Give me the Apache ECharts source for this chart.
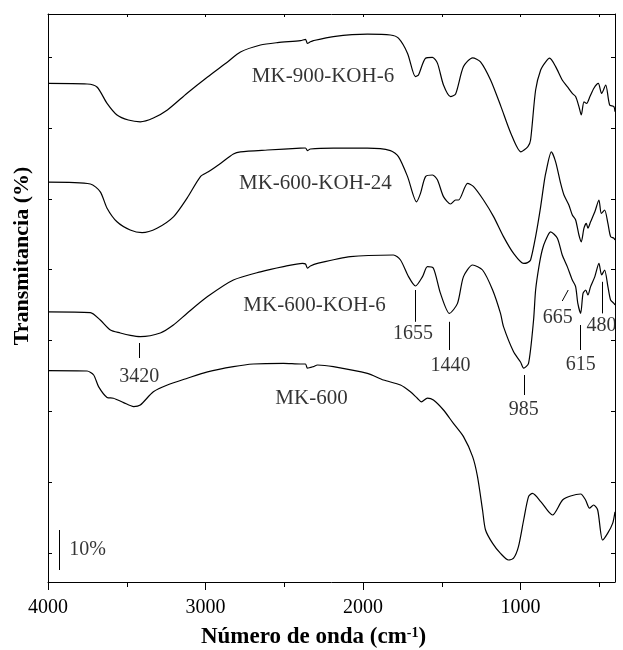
<!DOCTYPE html>
<html><head><meta charset="utf-8">
<script src="https://cdn.jsdelivr.net/npm/echarts@6/dist/echarts.min.js"></script>
<style>html,body{margin:0;padding:0;background:#fff}#c{width:623px;height:650px}</style>
</head><body><div id="c"></div>
<script>
// Wavenumber (cm-1), offset transmittance (%) for each sample
const mk900koh6 = [[4000,117.4],[3752,117.25],[3689,116.5],[3625,112.4],[3562,109.5],[3490,108.25],[3414,107.8],[3331,108.75],[3242,110.75],[3115,115.0],[2987,119.0],[2860,122.75],[2778,125.25],[2651,127.0],[2543,127.6],[2397,128.1],[2365,128.4],[2353,127.4],[2334,127.8],[2315,128.1],[2188,129.1],[1972,129.7],[1826,129.5],[1775,128.7],[1717,124.9],[1667,119.1],[1648,119.5],[1603,123.7],[1559,123.9],[1527,122.4],[1489,117.0],[1444,114.1],[1412,114.75],[1362,121.6],[1304,123.8],[1254,122.8],[1190,118.25],[1124,111.6],[1061,104.9],[997,100.3],[953,101.6],[936,103.25],[904,115.75],[872,120.75],[840,122.8],[815,123.7],[777,121.6],[735,118.25],[703,116.6],[671,114.9],[650,114.1],[629,111.6],[614,109.5],[597,112.8],[580,112.4],[559,114.1],[534,116.2],[506,117.4],[485,114.9],[459,117.0],[434,112.0],[407,111.6],[400,110.3]];
const mk600koh24 = [[4000,92.7],[3731,92.25],[3668,90.3],[3625,86.2],[3562,82.8],[3478,80.75],[3403,80.1],[3308,81.2],[3202,84.1],[3117,88.7],[3032,94.1],[2982,95.3],[2905,97.4],[2823,99.75],[2778,100.3],[2607,100.75],[2397,101.2],[2365,101.25],[2353,100.6],[2334,101.0],[2188,101.2],[1972,101.2],[1826,100.6],[1775,99.1],[1717,94.1],[1660,87.8],[1635,89.9],[1603,94.1],[1559,94.5],[1527,93.25],[1489,89.1],[1444,87.25],[1412,88.25],[1393,88.25],[1336,92.4],[1298,91.6],[1235,88.25],[1171,84.1],[1108,79.1],[1044,74.9],[980,72.4],[955,72.6],[936,73.25],[904,79.1],[872,86.6],[851,92.4],[840,94.9],[804,100.3],[777,97.8],[745,92.4],[724,89.5],[693,87.0],[671,84.5],[650,83.25],[629,79.5],[614,77.8],[597,81.2],[582,82.4],[572,81.2],[555,82.8],[528,85.3],[502,88.25],[487,84.9],[466,85.75],[445,82.4],[428,79.1],[407,78.7],[400,78.25]];
const mk600koh6 = [[4000,60.3],[3731,60.1],[3668,58.25],[3604,55.75],[3541,55.0],[3477,54.4],[3414,54.1],[3287,55.0],[3204,57.0],[3115,60.0],[2987,64.1],[2823,68.25],[2651,70.3],[2505,71.6],[2384,72.4],[2365,72.25],[2353,71.2],[2334,71.75],[2289,72.4],[2080,74.1],[1807,74.5],[1762,73.25],[1711,69.1],[1667,66.75],[1622,69.1],[1591,71.6],[1553,71.2],[1508,64.9],[1451,59.9],[1400,62.4],[1362,69.1],[1304,72.0],[1241,70.75],[1177,65.75],[1127,59.9],[1108,56.6],[1044,50.3],[1000,47.75],[980,46.2],[949,47.4],[917,58.25],[904,65.75],[883,71.6],[862,75.75],[840,78.25],[809,80.3],[766,78.7],[735,74.5],[703,71.6],[671,68.25],[650,66.6],[636,62.4],[618,59.9],[603,64.9],[586,65.75],[572,64.5],[555,66.6],[528,69.1],[502,72.4],[485,69.5],[466,70.75],[445,66.6],[428,63.25],[407,62.4],[400,62.0]];
const mk600 = [[4000,45.6],[3752,45.5],[3710,44.5],[3679,41.6],[3625,38.9],[3585,38.7],[3520,37.6],[3456,36.6],[3414,37.0],[3331,40.3],[3242,42.0],[3115,43.7],[2987,45.3],[2823,46.6],[2696,47.25],[2505,47.4],[2397,47.25],[2365,47.25],[2353,46.2],[2315,46.6],[2289,47.0],[2188,46.6],[1972,44.9],[1870,43.25],[1762,42.0],[1699,40.3],[1655,38.7],[1629,37.8],[1591,38.7],[1553,38.25],[1489,35.75],[1426,32.4],[1362,29.1],[1304,24.1],[1273,19.1],[1241,10.75],[1222,5.75],[1177,2.4],[1127,-0.1],[1076,-1.75],[1044,-1.3],[1013,1.6],[980,8.25],[949,14.1],[924,14.9],[870,12.8],[797,9.5],[733,13.25],[682,14.25],[618,14.75],[587,13.25],[562,11.2],[536,12.0],[510,10.75],[479,3.25],[447,4.9],[415,7.4],[400,10.3]];

const seriesNames = ['MK-900-KOH-6','MK-600-KOH-24','MK-600-KOH-6','MK-600'];
const seriesData = [mk900koh6, mk600koh24, mk600koh6, mk600];
const nameAnchors = [[2254,119.1],[2302,92.4],[2308,62.0],[2327,38.75]];

// band annotations
const peakLabels = ['3420','1655','1440','985','665','615','480'];
const peakLines = [[[3420,52.5],[3420,48.75]],[[1667,65.75],[1667,57.8]],[[1451,57.8],[1451,50.75]],[[978,44.5],[978,39.5]],[[735,63.0],[697,65.75]],[[618,57.0],[618,50.75]],[[481,67.8],[481,59.9]]];
const peakLabelAt = [[3420,44.0],[1683,54.75],[1444,46.75],[980,35.75],[764,58.7],[618,47.0],[486,56.75]];

// 10 % scale bar
const scaleBar = [[3926,5.75],[3926,-4.25]];
const scaleLabel = '10%';
const scaleLabelAt = [3865,0.75];

const xMajorTicks = [1000,2000,3000,4000];
const xMinorTicks = [500,1500,2500,3500];
const xAllTicks = [500,1000,1500,2000,2500,3000,3500,4000];
const yTicks = [0,17.71,35.42,53.13,70.84,88.55,106.26,123.97];

const FONT = '"Liberation Serif", "Times New Roman", serif';
const BLACK = '#000';
const chart = echarts.init(document.getElementById('c'), null, {renderer:'canvas'});

const xBase = {type:'value', min:400, max:4000, inverse:true, gridIndex:0, splitLine:{show:false}};
const yBase = {type:'value', min:-7.25, max:134.75, gridIndex:0, splitLine:{show:false}, axisLabel:{show:false}};

const series = seriesData.map((d,i)=>({
  type:'line', name:seriesNames[i], data:d, showSymbol:false, smooth:0.25,
  lineStyle:{color:BLACK, width:1.2}, itemStyle:{color:BLACK}, silent:true, z:3
}));

series.push({
  type:'line', data:[], silent:true,
  markLine:{
    silent:true, symbol:['none','none'], label:{show:false},
    lineStyle:{color:BLACK, width:1, type:'solid'},
    data: peakLines.map(s=>[{coord:s[0]},{coord:s[1]}]).concat([[{coord:scaleBar[0]},{coord:scaleBar[1]}]])
  }
});

series.push({
  type:'scatter', symbolSize:0, silent:true, z:5,
  label:{show:true, position:'inside', formatter:'{b}', color:BLACK, fontFamily:FONT, fontSize:20},
  data: peakLabelAt.map((p,i)=>({name:peakLabels[i], value:p}))
    .concat([{name:scaleLabel, value:scaleLabelAt, label:{align:'left'}}])
});

series.push({
  type:'scatter', symbolSize:0, silent:true, z:5,
  label:{show:true, position:'inside', formatter:'{b}', color:BLACK, fontFamily:FONT, fontSize:21},
  data: nameAnchors.map((p,i)=>({name:seriesNames[i], value:p}))
});

chart.setOption({
  animation:false,
  backgroundColor:'#fff',
  grid:{left:48, right:8, top:14, bottom:68, containLabel:false, outerBoundsMode:'none'},
  xAxis:[
    Object.assign({}, xBase, {
      position:'bottom',
      axisLine:{show:true, onZero:false, lineStyle:{color:BLACK, width:1}},
      axisTick:{show:true, inside:false, length:8, customValues:xMajorTicks, lineStyle:{color:BLACK}},
      axisLabel:{show:true, customValues:xMajorTicks, margin:16, color:BLACK, fontFamily:FONT, fontSize:20,
        formatter:(v)=>String(v)},
      name:'Número de onda (cm{sup|-1})', nameLocation:'middle', nameGap:44,
      nameTextStyle:{color:BLACK, fontFamily:FONT, fontWeight:'bold', fontSize:23, padding:[0,36,0,0],
        rich:{sup:{fontFamily:FONT, fontWeight:'bold', fontSize:14, verticalAlign:'top', color:BLACK}}}
    }),
    Object.assign({}, xBase, {
      position:'bottom',
      axisLine:{show:false, onZero:false},
      axisTick:{show:true, inside:false, length:5, customValues:xMinorTicks, lineStyle:{color:BLACK}},
      axisLabel:{show:false}
    }),
    Object.assign({}, xBase, {
      position:'top',
      axisLine:{show:true, onZero:false, lineStyle:{color:BLACK, width:1}},
      axisTick:{show:true, inside:true, length:3, customValues:xAllTicks, lineStyle:{color:BLACK}},
      axisLabel:{show:false}
    })
  ],
  yAxis:[
    Object.assign({}, yBase, {
      position:'left',
      axisLine:{show:true, onZero:false, lineStyle:{color:BLACK, width:1}},
      axisTick:{show:true, inside:true, length:4, customValues:yTicks, lineStyle:{color:BLACK}},
      name:'Transmitancia (%)', nameLocation:'middle', nameGap:15,
      nameTextStyle:{color:BLACK, fontFamily:FONT, fontWeight:'bold', fontSize:22, padding:[0,0,0,84]}
    }),
    Object.assign({}, yBase, {
      position:'right',
      axisLine:{show:true, onZero:false, lineStyle:{color:BLACK, width:1}},
      axisTick:{show:true, inside:true, length:4, customValues:yTicks, lineStyle:{color:BLACK}}
    })
  ],
  series: series
});
</script>
</body></html>
